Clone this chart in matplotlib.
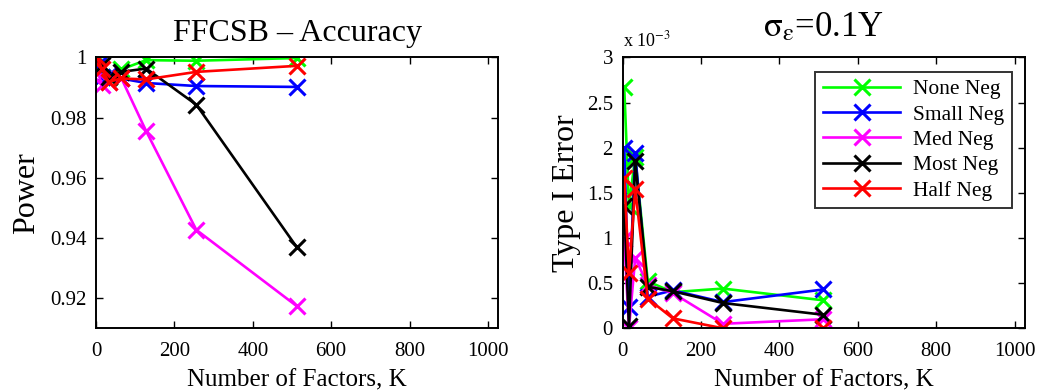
import matplotlib
matplotlib.use("Agg")
import matplotlib.pyplot as plt
import numpy as np

plt.rcParams['font.family'] = ['Liberation Serif', 'DejaVu Serif']
plt.rcParams['mathtext.fontset'] = 'stix'

# number of factors
K = [4, 16, 32, 64, 128, 256, 512]
names = ['None Neg', 'Small Neg', 'Med Neg', 'Most Neg', 'Half Neg']
colors = ['#00ff00', '#0000ff', '#ff00ff', '#000000', '#ff0000']

# power (left)
pow_none = [1.0, 0.9935, 0.9935, 0.996, 0.9991, 0.9989, 0.9998]
pow_small = [0.9975, 0.9935, 0.9940, 0.9930, 0.9915, 0.9905, 0.9902]
pow_med = [0.9952, 0.9908, 0.9920, 0.9933, 0.9755, 0.9427, 0.9174]
pow_most = [0.9997, 0.9974, 0.9935, 0.9952, 0.9963, 0.9843, 0.9370]
pow_half = [0.9997, 0.9960, 0.9919, 0.9930, 0.9927, 0.9952, 0.9972]

# type I error, in units of 1e-3 (right)
err_none = [2.67, 1.35, 1.90, 0.52, 0.40, 0.44, 0.31]
err_small = [2.00, 0.24, 1.94, 0.35, 0.42, 0.29, 0.43]
err_med = [0.99, 0.00, 0.78, 0.48, 0.39, 0.05, 0.10]
err_most = [1.35, 0.02, 1.85, 0.46, 0.41, 0.28, 0.15]
err_half = [1.67, 0.61, 1.54, 0.33, 0.11, 0.00, 0.00]

power = [pow_none, pow_small, pow_med, pow_most, pow_half]
errs = [err_none, err_small, err_med, err_most, err_half]

fig = plt.figure(figsize=(10.39, 3.92), dpi=100)
ax1 = fig.add_axes([0.0924, 0.1625, 0.387, 0.691])
ax2 = fig.add_axes([0.5993, 0.1625, 0.387, 0.691])

for ys, c, n in zip(power, colors, names):
    ax1.plot(K, ys, color=c, lw=1.9, marker='x', ms=11, mew=2.2, label=n)
for ys, c, n in zip(errs, colors, names):
    ax2.plot(K, ys, color=c, lw=1.9, marker='x', ms=11, mew=2.2, label=n)

for ax in (ax1, ax2):
    ax.set_xlim(0, 1026)
    ax.set_xticks([0, 200, 400, 600, 800, 1000])
    ax.tick_params(direction='in', top=True, right=True, labelsize=15,
                   length=5, width=1, pad=7)
    ax.tick_params(axis='x', pad=10)
    for s in ax.spines.values():
        s.set_linewidth(1.4)
    ax.set_xlabel('Number of Factors, K', fontsize=18, labelpad=6)

ax1.set_ylim(0.91, 1.0)
ax1.set_yticks([0.92, 0.94, 0.96, 0.98, 1.0])
ax1.set_yticklabels(['0.92', '0.94', '0.96', '0.98', '1'])
ax1.set_ylabel('Power', fontsize=23, labelpad=6)
ax1.set_title('FFCSB \u2013 Accuracy', fontsize=23, pad=12)

ax2.set_ylim(0, 3)
ax2.set_yticks([0, 0.5, 1, 1.5, 2, 2.5, 3])
ax2.set_yticklabels(['0', '0.5', '1', '1.5', '2', '2.5', '3'])
ax2.set_ylabel('Type I Error', fontsize=23, labelpad=4)
ax2.set_title(r'$\mathrm{\sigma_{\varepsilon}}$=0.1Y', fontsize=25, pad=15)
ax2.text(0.0, 1.025, r'x 10$^{-3}$', transform=ax2.transAxes, fontsize=13,
         ha='left', va='bottom')

leg = ax2.legend(loc='upper right', fontsize=15.5, handlelength=3.6,
                 frameon=True, fancybox=False, borderpad=0.35,
                 labelspacing=0.25, handletextpad=0.6, borderaxespad=0,
                 bbox_to_anchor=(0.968, 0.948))
leg.get_frame().set_edgecolor('black')
leg.get_frame().set_linewidth(1.4)

fig.savefig('out.png', dpi=100)
